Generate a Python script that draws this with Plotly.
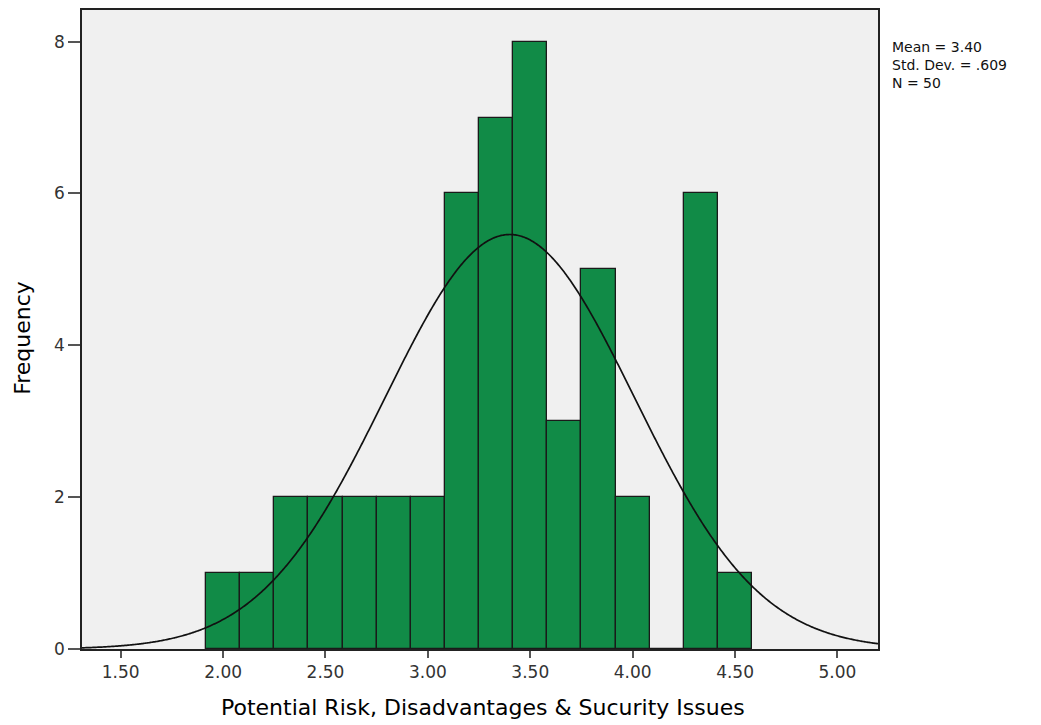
import numpy as np
import plotly.graph_objects as go

# Histogram data (bin centres, width 1/6)
bin_centers = [2.0000, 2.1667, 2.3333, 2.5000, 2.6667, 2.8333, 3.0000, 3.1667,
               3.3333, 3.5000, 3.6667, 3.8333, 4.0000, 4.1667, 4.3333, 4.5000]
counts = [1, 1, 2, 2, 2, 2, 2, 6, 7, 8, 3, 5, 2, 0, 6, 1]
bin_width = 1 / 6

# Summary statistics
mean_val = 3.40
std_val = 0.609
n_val = 50
stat_lines = ["Mean = 3.40", "Std. Dev. = .609", "N = 50"]

x_ticks = [1.5, 2.0, 2.5, 3.0, 3.5, 4.0, 4.5, 5.0]
x_tick_labels = ["1.50", "2.00", "2.50", "3.00", "3.50", "4.00", "4.50", "5.00"]
y_ticks = [0, 2, 4, 6, 8]

x_title = "Potential Risk, Disadvantages & Sucurity Issues"
y_title = "Frequency"

x_range = [1.311, 5.198]
y_range = [0, 8.416]

FONT = "DejaVu Sans, Liberation Sans, Arial, sans-serif"

# Normal curve scaled to counts
xc = np.linspace(x_range[0], x_range[1], 800)
yc = n_val * bin_width * np.exp(-0.5 * ((xc - mean_val) / std_val) ** 2) / (std_val * np.sqrt(2 * np.pi))

fig = go.Figure()
fig.add_trace(go.Bar(
    x=bin_centers, y=counts, width=bin_width,
    marker=dict(color="#118B47", line=dict(color="#1a1a1a", width=1.3)),
    showlegend=False, hoverinfo="x+y",
))
fig.add_trace(go.Scatter(
    x=xc, y=yc, mode="lines",
    line=dict(color="#111111", width=1.7, simplify=False),
    showlegend=False, hoverinfo="skip",
))

plot_left, plot_w = 82.3, 796.0
plot_top, plot_h = 8.3, 641.0
annotations = [dict(
    text="<br>".join(stat_lines), xref="paper", yref="paper",
    x=1.0, y=1 - (63.0 - plot_top) / plot_h,
    xanchor="left", yanchor="middle", xshift=12,
    align="left", showarrow=False,
    font=dict(size=14, color="#111111", family=FONT),
)]
# axis titles
annotations.append(dict(
    text=x_title, xref="paper", yref="paper",
    x=(483.5 - plot_left) / plot_w, y=1 - (708 - plot_top) / plot_h,
    xanchor="center", yanchor="middle", showarrow=False,
    font=dict(size=22, color="#000000", family=FONT),
))
annotations.append(dict(
    text=y_title, xref="paper", yref="paper",
    x=(22 - plot_left) / plot_w, y=1 - (337.5 - plot_top) / plot_h,
    xanchor="center", yanchor="middle", showarrow=False, textangle=-90,
    font=dict(size=22, color="#000000", family=FONT),
))

fig.update_layout(
    width=1041, height=725,
    margin=dict(l=82, r=163, t=8, b=76),
    paper_bgcolor="white",
    plot_bgcolor="#F0F0F0",
    font=dict(family=FONT, color="#000000"),
    bargap=0,
    annotations=annotations,
)
fig.update_xaxes(
    range=x_range, tickvals=x_ticks, ticktext=x_tick_labels,
    ticks="outside", ticklen=7, tickwidth=1.5, tickcolor="#555555",
    tickfont=dict(size=17, color="#333333", family=FONT),
    showgrid=False, zeroline=False,
    showline=True, linecolor="#222222", linewidth=1.5, mirror=True,
)
fig.update_yaxes(
    range=y_range, tickvals=y_ticks,
    ticks="outside", ticklen=12, tickwidth=1.5, tickcolor="#555555",
    tickfont=dict(size=17, color="#333333", family=FONT),
    showgrid=False, zeroline=False,
    showline=True, linecolor="#222222", linewidth=1.5, mirror=True,
)

fig.write_html("out.html", config={"displayModeBar": False},
               post_script="document.body.style.margin='0px';")
